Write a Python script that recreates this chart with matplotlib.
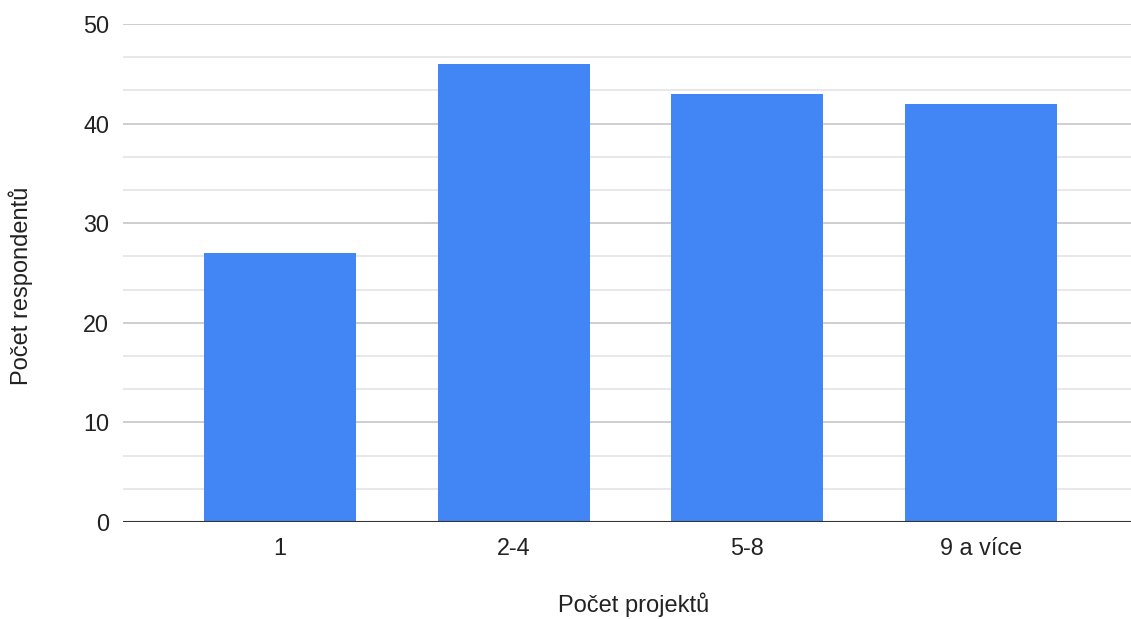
import numpy as np
import matplotlib.pyplot as plt
from matplotlib.ticker import MultipleLocator

categories = ['1', '2-4', '5-8', '9 a více']
respondents = [27, 46, 43, 42]

plt.rcParams['font.family'] = ['Liberation Sans', 'DejaVu Sans']

fig = plt.figure(figsize=(11.31, 6.19), dpi=100)
ax = fig.add_axes([0.1088, 0.1567, 0.8912, 0.8045])

x = np.arange(len(categories))
ax.bar(x, respondents, width=0.65, color='#4285F4', zorder=3)

ax.set_xlim(-0.67, 3.64)
ax.set_ylim(0, 50)
ax.set_xticks(x)
ax.set_xticklabels(categories)
ax.yaxis.set_major_locator(MultipleLocator(10))
ax.yaxis.set_minor_locator(MultipleLocator(10 / 3))

ax.grid(axis='y', which='major', color='#c6c6c6', linewidth=1.2, zorder=0)
ax.grid(axis='y', which='minor', color='#e4e4e4', linewidth=1.2, zorder=0)
ax.axhline(0, color='#333333', linewidth=1.5, zorder=4)

for s in ax.spines.values():
    s.set_visible(False)

ax.tick_params(axis='both', which='both', length=0, labelsize=16.8, colors='#222222')
ax.tick_params(axis='y', pad=10)
ax.tick_params(axis='x', pad=11)

ax.set_xlabel('Počet projektů', fontsize=17, color='#222222', va='center')
ax.set_ylabel('Počet respondentů', fontsize=17, color='#222222', va='center')
ax.xaxis.set_label_coords(0.507, -0.167)
ax.yaxis.set_label_coords(-0.102, 0.474)

fig.savefig('out.png', dpi=100)
